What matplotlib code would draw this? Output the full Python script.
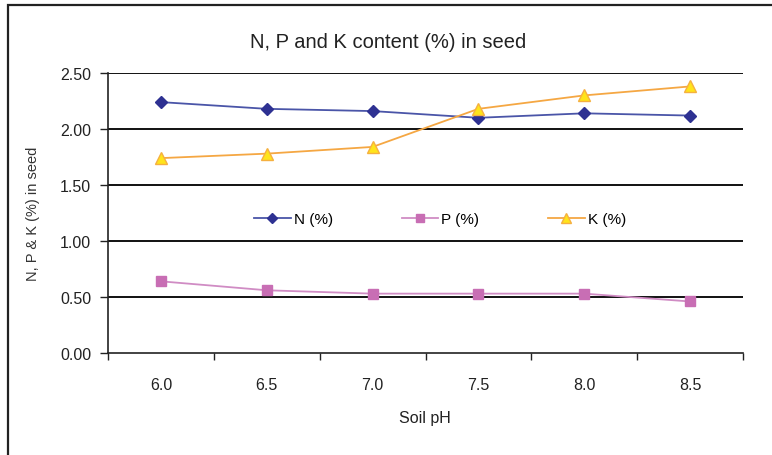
import matplotlib
matplotlib.use("Agg")
import matplotlib.pyplot as plt
from matplotlib import font_manager
from matplotlib.patches import Rectangle
from matplotlib.ticker import FixedLocator, NullFormatter

ph_labels = ["6.0", "6.5", "7.0", "7.5", "8.0", "8.5"]
n_vals = [2.24, 2.18, 2.16, 2.10, 2.14, 2.12]
p_vals = [0.64, 0.56, 0.53, 0.53, 0.53, 0.46]
k_vals = [1.74, 1.78, 1.84, 2.18, 2.30, 2.38]
y_ticks = [0.0, 0.5, 1.0, 1.5, 2.0, 2.5]

names = {f.name for f in font_manager.fontManager.ttflist}
narrow = "Liberation Sans Narrow" if "Liberation Sans Narrow" in names else "Liberation Sans"
regular = "Liberation Sans" if "Liberation Sans" in names else "DejaVu Sans"

W, H = 772, 456
fig = plt.figure(figsize=(W / 100, H / 100), dpi=100)
fig.patch.set_facecolor("white")

# outer frame
fig.patches.append(Rectangle((8 / W, -0.05), 1.2, (H - 5.5) / H + 0.05,
                             transform=fig.transFigure, fill=False,
                             edgecolor="#222222", linewidth=1.6))

ax = fig.add_axes([108 / W, (H - 354) / H, 635 / W, 280 / H])
x = list(range(len(ph_labels)))

ax.plot(x, n_vals, color="#4a55a8", lw=1.3, marker="D", ms=6.5,
        mfc="#2e3192", mec="#2e3192", label="N (%)", zorder=3)
ax.plot(x, p_vals, color="#d08cc4", lw=1.3, marker="s", ms=7.5,
        mfc="#c86eb4", mec="#c86eb4", label="P (%)", zorder=3)
ax.plot(x, k_vals, color="#f5a743", lw=1.3, marker="^", ms=8,
        mfc="#ffe41a", mec="#f5b040", label="K (%)", zorder=3)

ax.set_xlim(-0.5, len(ph_labels) - 0.5)
ax.set_ylim(0, 2.5)
ax.set_yticks(y_ticks)
ax.set_yticklabels([f"{v:.2f}" for v in y_ticks], fontfamily=narrow, fontsize=11.5)
ax.set_xticks(x)
ax.set_xticklabels(ph_labels, fontfamily=narrow, fontsize=11.5)
ax.xaxis.set_minor_locator(FixedLocator([i - 0.5 for i in range(len(ph_labels) + 1)]))
ax.xaxis.set_minor_formatter(NullFormatter())
ax.tick_params(axis="x", which="major", length=0, pad=17, colors="#222222")
ax.tick_params(axis="x", which="minor", length=5, width=1, direction="out", color="#222222")
ax.tick_params(axis="y", length=6, width=1, direction="out", pad=6, color="#222222",
               labelcolor="#222222")

for v in y_ticks[1:]:
    ax.axhline(v, color="#111111", lw=1.4, zorder=1)

for s in ["top", "right"]:
    ax.spines[s].set_visible(False)
for s in ["left", "bottom"]:
    ax.spines[s].set_color("#222222")
    ax.spines[s].set_linewidth(1.2)

fig.text(388 / W, (H - 42) / H, "N, P and K content (%) in seed", ha="center", va="center",
         fontfamily=narrow, fontsize=14.5, color="#222222")
fig.text(425 / W, (H - 419) / H, "Soil pH", ha="center", va="center",
         fontfamily=narrow, fontsize=11.5, color="#222222")
fig.text(33 / W, (H - 214) / H, "N, P & K (%) in seed", ha="center", va="center",
         rotation=90, fontfamily=regular, fontsize=10.5, color="#333333")

leg = ax.legend(loc="center", bbox_to_anchor=(440 / W, (H - 220) / H),
                bbox_transform=fig.transFigure, ncol=3, frameon=False,
                prop={"family": regular, "size": 11}, handlelength=2.4,
                handletextpad=0.2, columnspacing=4.5, markerscale=0.85)

fig.savefig("out.png", dpi=100, facecolor="white")
